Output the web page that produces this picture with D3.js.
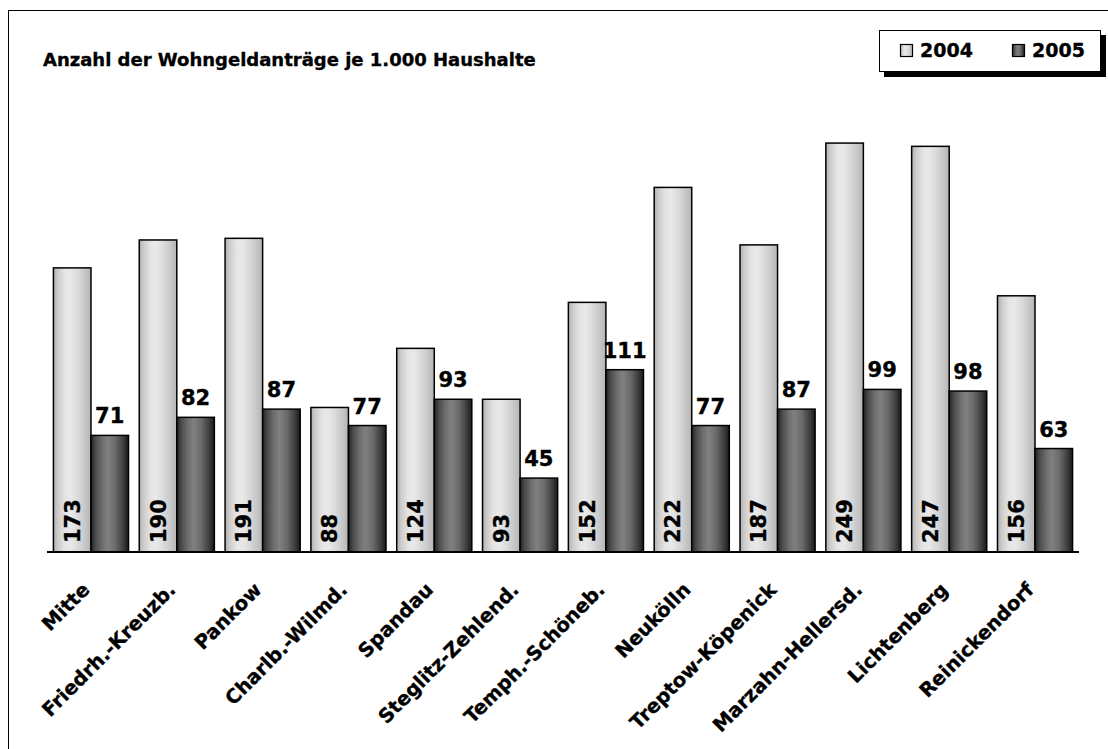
<!DOCTYPE html>
<html><head><meta charset="utf-8">
<script src="https://cdn.jsdelivr.net/npm/d3@7"></script>
<style>
html,body{margin:0;padding:0;background:#fff;}
svg{display:block;}
text{font-family:"DejaVu Sans",Verdana,sans-serif;font-weight:bold;fill:#000;stroke:#000;stroke-width:0.35px;}
</style></head>
<body>
<svg id="chart" width="1108" height="749"></svg>
<script>
const categories = ["Mitte","Friedrh.-Kreuzb.","Pankow","Charlb.-Wilmd.","Spandau","Steglitz-Zehlend.","Temph.-Schöneb.","Neukölln","Treptow-Köpenick","Marzahn-Hellersd.","Lichtenberg","Reinickendorf"];
const series = ["2004","2005"];
const values2004 = [173,190,191,88,124,93,152,222,187,249,247,156];
const values2005 = [71,82,87,77,93,45,111,77,87,99,98,63];
const title = "Anzahl der Wohngeldanträge je 1.000 Haushalte";

const svg = d3.select("#chart");
const W = 1108, H = 749;
const baseY = 552, x0 = 47, x1 = 1079;

// outer frame
svg.append("rect").attr("x",8.5).attr("y",10.5).attr("width",W+20).attr("height",H+20)
  .attr("fill","#fff").attr("stroke","#000").attr("stroke-width",1);

// gradients
const defs = svg.append("defs");
function grad(id, stops){
  const g = defs.append("linearGradient").attr("id",id).attr("x1","0%").attr("x2","100%").attr("y1","0%").attr("y2","0%");
  stops.forEach(s=>g.append("stop").attr("offset",s[0]).attr("stop-color",s[1]));
}
grad("g2004", [["0%","#b0b0b0"],["12%","#cccccc"],["30%","#e4e4e4"],["45%","#e9e9e9"],["65%","#dadada"],["85%","#c6c6c6"],["100%","#b4b4b4"]]);
grad("g2005", [["0%","#222"],["12%","#4a4a4a"],["30%","#6e6e6e"],["45%","#808080"],["65%","#6a6a6a"],["85%","#404040"],["100%","#1a1a1a"]]);
const fills = {"2004":"url(#g2004)","2005":"url(#g2005)"};

const x = d3.scaleBand().domain(categories).range([x0,x1]).paddingInner(0.125).paddingOuter(0.075);
const xs = d3.scaleBand().domain(series).range([0,x.bandwidth()]);
const y = d3.scaleLinear().domain([0,260]).range([baseY, baseY-427]);

const data = categories.map((c,i)=>({cat:c, v:{"2004":values2004[i],"2005":values2005[i]}}));

const g = svg.append("g");
const groups = g.selectAll("g.grp").data(data).join("g").attr("class","grp")
  .attr("transform",d=>`translate(${x(d.cat)},0)`);

groups.selectAll("rect").data(d=>series.map(s=>({s, v:d.v[s]}))).join("rect")
  .attr("x",d=>xs(d.s)).attr("width",xs.bandwidth())
  .attr("y",d=>y(d.v)).attr("height",d=>baseY-y(d.v))
  .attr("fill",d=>fills[d.s]).attr("stroke","#000").attr("stroke-width",1.5);

// 2004 labels, rotated inside bar
groups.append("text")
  .attr("transform",d=>`translate(${xs("2004")+xs.bandwidth()/2+7.5},${baseY-9}) rotate(-90)`)
  .attr("text-anchor","start").attr("font-size",21)
  .text(d=>d.v["2004"]);
// 2005 labels above bar
groups.append("text")
  .attr("x",xs("2005")+xs.bandwidth()/2).attr("y",d=>y(d.v["2005"])-12)
  .attr("text-anchor","middle").attr("font-size",21)
  .text(d=>d.v["2005"]);

// axis
const axis = d3.axisBottom(x).tickSize(0).tickPadding(0);
const ax = svg.append("g").attr("transform",`translate(0,${baseY})`).call(axis);
ax.select(".domain").attr("stroke","#000").attr("stroke-width",2).attr("d",`M${x0},0H${x1}`);
ax.selectAll(".tick text")
  .attr("font-family","DejaVu Sans").attr("font-weight","bold").attr("font-size",19.5).attr("fill","#000")
  .attr("text-anchor","end").attr("dy",0).attr("y",0)
  .attr("transform",`translate(0,39) rotate(-45)`);

// title
svg.append("text").attr("x",43).attr("y",66).attr("font-size",18).text(title);

// legend
const lg = svg.append("g");
lg.append("rect").attr("x",884).attr("y",35).attr("width",222).attr("height",42).attr("fill","#000");
lg.append("rect").attr("x",879.5).attr("y",30.5).attr("width",221).attr("height",41).attr("fill","#fff").attr("stroke","#000").attr("stroke-width",1);
const lx = [900, 1012];
series.forEach((s,i)=>{
  lg.append("rect").attr("x",lx[i]+0.5).attr("y",44.5).attr("width",12).attr("height",12)
    .attr("fill",fills[s]).attr("stroke","#000").attr("stroke-width",1.2);
  lg.append("text").attr("x",lx[i]+20).attr("y",57).attr("font-size",19).text(s);
});
</script>
</body></html>
